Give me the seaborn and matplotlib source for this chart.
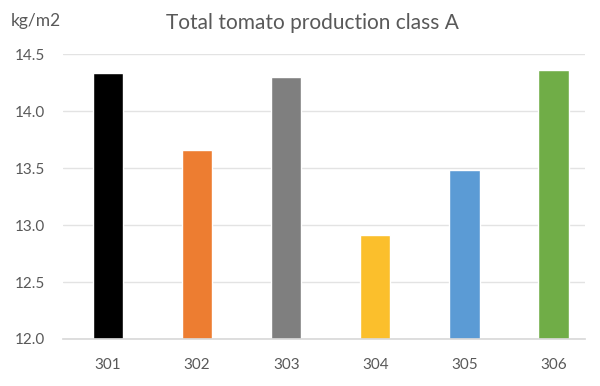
import matplotlib
matplotlib.use('Agg')
import matplotlib.pyplot as plt
import seaborn as sns
import pandas as pd

# Data
plots = ['301', '302', '303', '304', '305', '306']
production = [14.34, 13.66, 14.30, 12.91, 13.48, 14.36]
bar_colors = ['#000000', '#ED7D31', '#7F7F7F', '#FBBF2C', '#5B9BD5', '#70AD47']
y_ticks = [12.0, 12.5, 13.0, 13.5, 14.0, 14.5]

df = pd.DataFrame({'plot': plots, 'production': production})

sns.set_theme(style='white')
plt.rcParams['font.family'] = ['Lato', 'DejaVu Sans']

fig = plt.figure(figsize=(6, 3.86), dpi=100)
ax = fig.add_axes([0.105, 0.122, 0.87, 0.737])

sns.barplot(data=df, x='plot', y='production', hue='plot', palette=bar_colors,
            legend=False, width=0.34, ax=ax, saturation=1)

ax.set_xlim(-0.505, 5.353)
ax.set_ylim(12.0, 14.5)
ax.set_yticks(y_ticks)
ax.set_yticklabels([f'{t:.1f}' for t in y_ticks])
ax.yaxis.grid(True, color='#E3E3E3', linewidth=1)
ax.set_axisbelow(True)
for s in ['top', 'right', 'left']:
    ax.spines[s].set_visible(False)
ax.spines['bottom'].set_color('#D9D9D9')
ax.set_xlabel('')
ax.set_ylabel('')
ax.tick_params(axis='both', colors='#595959', labelsize=11, length=0)
ax.tick_params(axis='y', pad=13)
ax.tick_params(axis='x', pad=14)

fig.text(0.52, 0.94, 'Total tomato production class A', ha='center', va='center',
         fontsize=15, color='#595959')
fig.text(0.018, 0.945, 'kg/m2', ha='left', va='center', fontsize=12.5, color='#595959')

fig.savefig('out.png', dpi=100)
